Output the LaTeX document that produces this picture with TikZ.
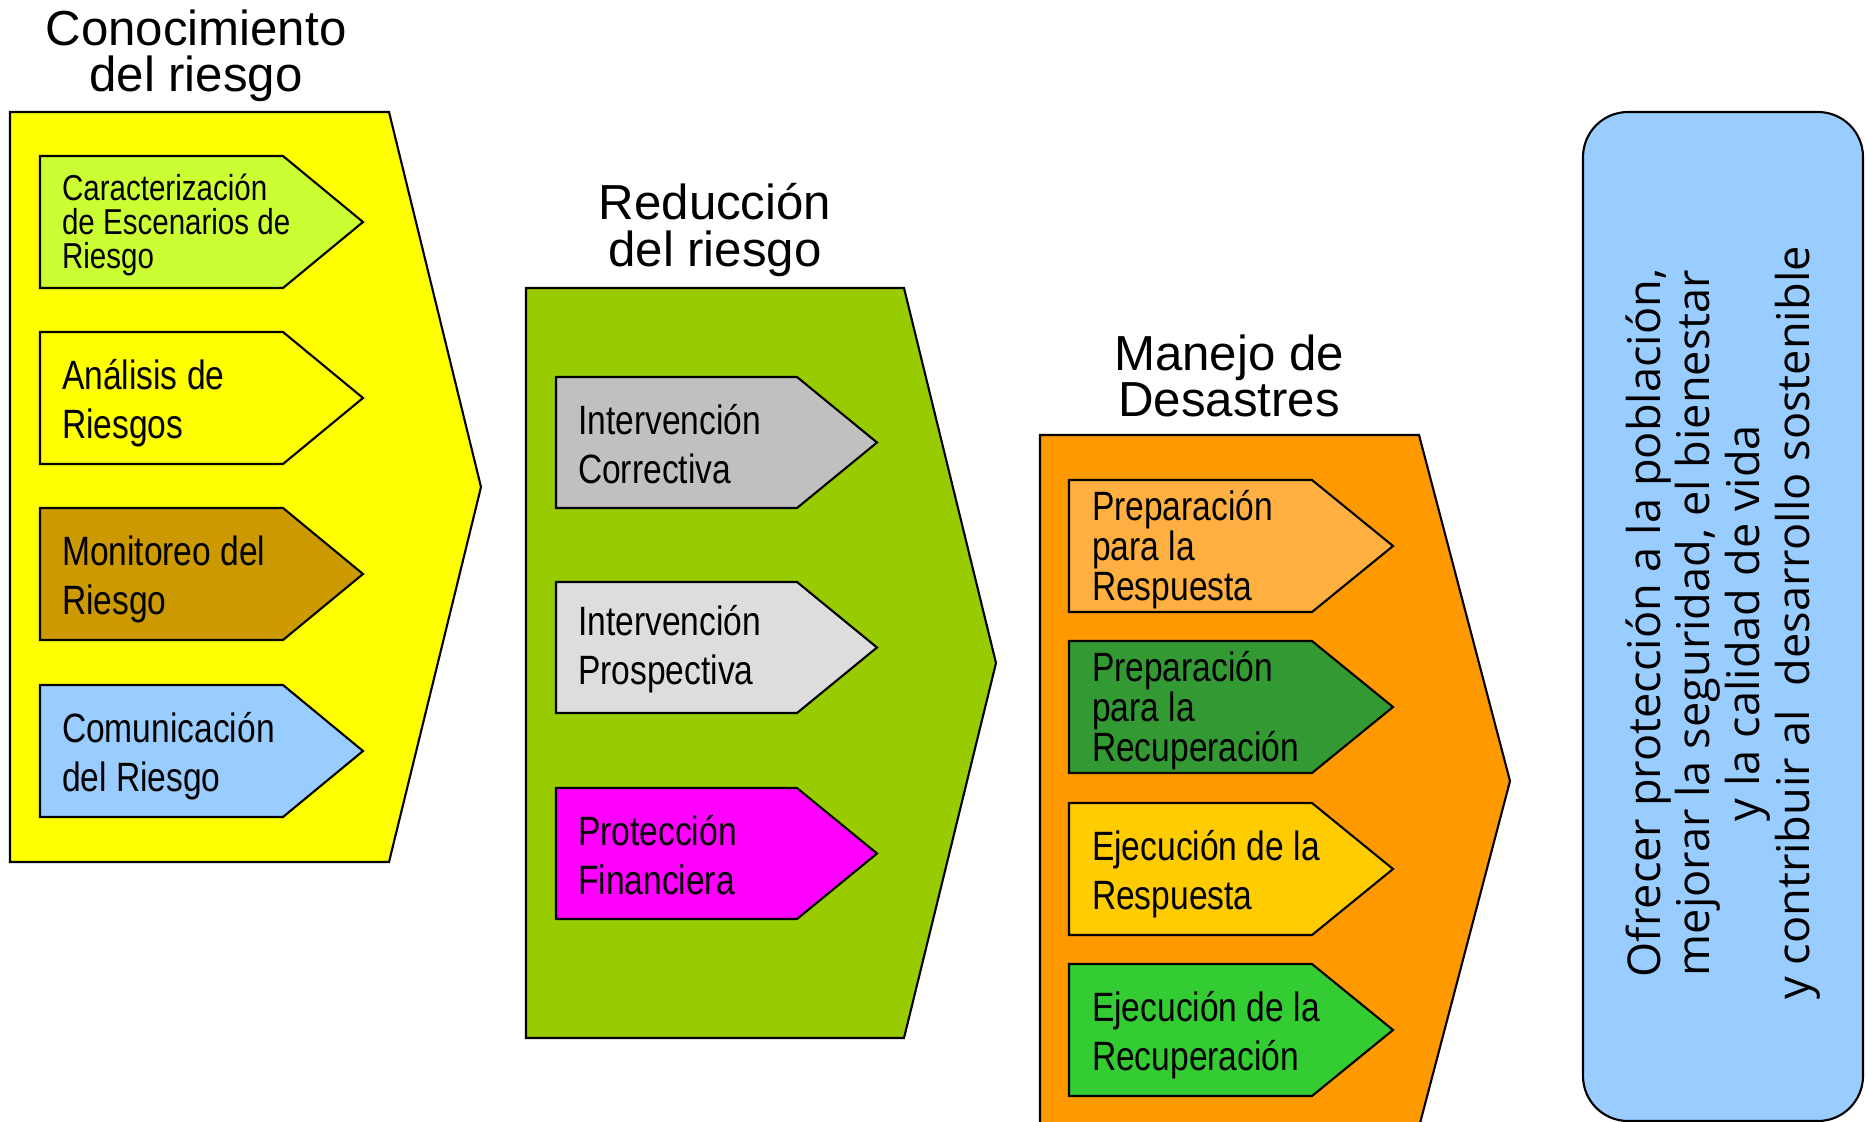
\documentclass[tikz,border=0pt]{standalone}
\usepackage{fontspec}
\setmainfont{Liberation Sans}
\newfontfamily\narrowfont[FakeStretch=0.82]{Liberation Sans}
\newfontfamily\metafont{Open Sans}
\usepackage{xcolor}
\lineskiplimit=-20pt

\definecolor{amarillo}{HTML}{FFFF00}
\definecolor{limon}{HTML}{CCFF33}
\definecolor{ocre}{HTML}{CC9900}
\definecolor{celeste}{HTML}{99CCFF}
\definecolor{verdeclaro}{HTML}{99CC00}
\definecolor{grisA}{HTML}{C0C0C0}
\definecolor{grisB}{HTML}{DDDDDD}
\definecolor{magenta}{HTML}{FF00FF}
\definecolor{naranja}{HTML}{FF9900}
\definecolor{naranjaclaro}{HTML}{FFB040}
\definecolor{verdeoscuro}{HTML}{339933}
\definecolor{oro}{HTML}{FFCC00}
\definecolor{verde}{HTML}{33CC33}

% flecha: left x, top y, body width, tip length, height, fill
\newcommand{\flecha}[6]{%
	\draw[fill=#6] (#1,#2) -- ++(#3,0) -- ++(#4,#5/2) -- ++(-#4,#5/2) -- ++(-#3,0) -- cycle;}

\begin{document}
\begin{tikzpicture}[x=0.1mm, y=-0.1mm, line width=0.6pt,
	titulo/.style={font=\fontsize{14}{13.2}\selectfont, align=center, inner sep=0},
	etiqueta/.style={font=\narrowfont\fontsize{11.65}{13.95}\selectfont, align=left, anchor=west, inner sep=0},
	etiquetatres/.style={etiqueta, font=\narrowfont\fontsize{11.65}{11.4}\selectfont}]
	\useasboundingbox (0,0) rectangle (1866,1122);
	\clip (0,0) rectangle (1866,1122);

	% Conocimiento del riesgo
	\flecha{10}{112}{379}{92}{750}{amarillo}
	\node[titulo] (tconoc) at (196,56) {Conocimiento\\del riesgo};
	\flecha{40}{156}{243}{80}{132}{limon}
	\flecha{40}{332}{243}{80}{132}{amarillo}
	\flecha{40}{508}{243}{80}{132}{ocre}
	\flecha{40}{685}{243}{80}{132}{celeste}
	\node[etiqueta, font=\narrowfont\fontsize{10.25}{9.7}\selectfont] (caract) at (61,225) {Caracterización\\de Escenarios de\\Riesgo};
	\node[etiqueta] (analisis) at (61,403) {Análisis de\\Riesgos};
	\node[etiqueta] (monit) at (61,579) {Monitoreo del\\Riesgo};
	\node[etiqueta] (comun) at (61,756) {Comunicación\\del Riesgo};

	% Reduccion del riesgo
	\flecha{526}{288}{378}{92}{750}{verdeclaro}
	\node[titulo] (treduc) at (715,230) {Reducción\\del riesgo};
	\flecha{556}{377}{241}{80}{131}{grisA}
	\flecha{556}{582}{241}{80}{131}{grisB}
	\flecha{556}{788}{241}{80}{131}{magenta}
	\node[etiqueta] (correct) at (577,444) {Intervención\\Correctiva};
	\node[etiqueta] (prosp) at (577,649) {Intervención\\Prospectiva};
	\node[etiqueta] (finan) at (577,855) {Protección\\Financiera};

	% Manejo de desastres
	\flecha{1040}{435}{379}{91}{692}{naranja}
	\node[titulo] (tmanejo) at (1229,376) {Manejo de\\Desastres};
	\flecha{1069}{480}{243}{81}{132}{naranjaclaro}
	\flecha{1069}{641}{243}{81}{132}{verdeoscuro}
	\flecha{1069}{803}{243}{81}{132}{oro}
	\flecha{1069}{964}{243}{81}{132}{verde}
	\node[etiquetatres] (prepresp) at (1091,550) {Preparación\\para la\\Respuesta};
	\node[etiquetatres] (preprecu) at (1091,711) {Preparación\\para la\\Recuperación};
	\node[etiqueta] (ejecresp) at (1091,874) {Ejecución de la\\Respuesta};
	\node[etiqueta] (ejecrecu) at (1091,1035) {Ejecución de la\\Recuperación};

	% objetivo
	\draw[fill=celeste, rounded corners=4.5mm] (1583,112) rectangle (1863,1121);
	\node[rotate=90, align=center, inner sep=0, font=\metafont\fontsize{12.85}{14.2}\selectfont] (objetivo) at (1723,623)
		{Ofrecer protección a la población,\\mejorar la seguridad,\ el bienestar\\y la calidad de vida\\y contribuir al\ \ desarrollo sostenible};
\end{tikzpicture}
\end{document}
